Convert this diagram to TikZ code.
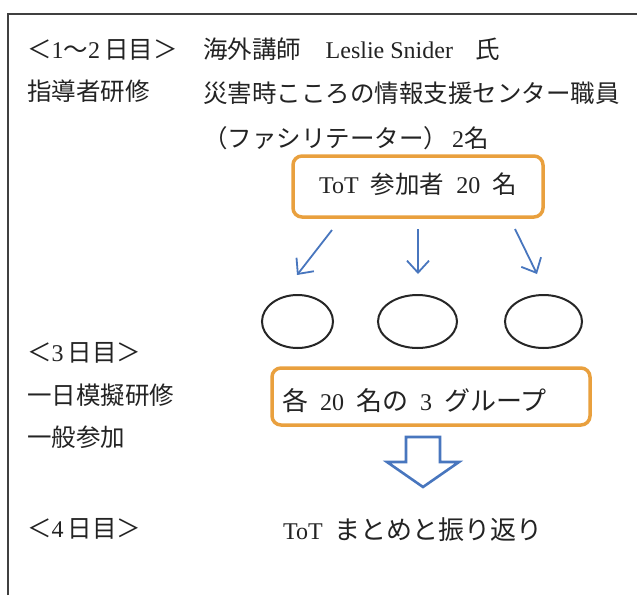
\documentclass[tikz,border=0pt]{standalone}
\usepackage{fontspec}
\setmainfont{Liberation Serif}
\newfontfamily\jp{Noto Sans CJK JP}
\usetikzlibrary{arrows.meta,shapes.geometric}
\definecolor{boxorange}{RGB}{233,160,62}
\definecolor{arrblue}{RGB}{72,118,190}
\definecolor{txt}{RGB}{35,35,35}
\newcommand\jtxt[1]{{\jp\fontsize{24.5}{28}\selectfont #1}}
\newcommand\jtxtb[1]{{\jp\fontsize{26}{28}\selectfont #1}}
\newcommand\jsp{\hspace{12pt}}
\tikzset{
  lbl/.style={anchor=base west, inner sep=0pt, text=txt, font=\fontsize{24}{28}\selectfont},
  obox/.style={draw=boxorange, line width=3.5pt, rounded corners=9pt, inner sep=0pt, text=txt, font=\fontsize{24}{28}\selectfont},
  grp/.style={draw=black!85, line width=2pt, ellipse, inner sep=0pt},
  thinarrow/.style={draw=arrblue, line width=1.8pt, -{Straight Barb[length=12pt,width=22pt]}},
  bigarrow/.style={draw=arrblue, line width=2.6pt, line join=miter},
  frame/.style={draw=black!75, line width=1.6pt}
}
\begin{document}
\begin{tikzpicture}[x=1pt,y=-1pt]
\useasboundingbox (0,0) rectangle (637,595);
\fill[white] (0,0) rectangle (637,595);
\draw[frame] (8,595) -- (8,14) -- (637,14);

% row 1-3
\node[lbl] (d12) at (27,58) {\jtxt{＜}1\jtxt{〜}2\,\jtxt{日目＞}};
\node[lbl] (lect) at (203,58) {\jtxt{海外講師　}Leslie Snider\hspace{22pt}\jtxt{氏}};
\node[lbl] (tot) at (27,100) {\jtxt{指導者研修}};
\node[lbl] (staff) at (203,102) {\jtxt{災害時こころの情報支援センター職員}};
\node[lbl] (fac) at (203,147) {\jtxt{（ファシリテーター）}\hspace{4pt}2\jtxt{名}};

% box 1
\node[obox, minimum width=250pt, minimum height=61pt, text height=20pt, text depth=6pt] (b1) at (418,186.5)
  {ToT\jsp\jtxt{参加者}\jsp 20\jsp\jtxt{名}};

% groups
\node[grp, minimum width=71pt, minimum height=53pt] (e1) at (297.5,321.5) {};
\node[grp, minimum width=79pt, minimum height=53pt] (e2) at (417.5,321.5) {};
\node[grp, minimum width=77pt, minimum height=53pt] (e3) at (543.5,321.5) {};

\coordinate (a1s) at (332,230); \coordinate (a1e) at (297,275);
\coordinate (a2s) at (418,229); \coordinate (a2e) at (418,274);
\coordinate (a3s) at (515,229); \coordinate (a3e) at (537,274);
\draw[thinarrow] (a1s) -- (a1e);
\draw[thinarrow] (a2s) -- (a2e);
\draw[thinarrow] (a3s) -- (a3e);

% day 3
\node[lbl] (d3) at (27,361) {\jtxt{＜}3\,\jtxt{日目＞}};
\node[lbl] (mock) at (27,404) {\jtxt{一日模擬研修}};
\node[lbl] (gen) at (27,446) {\jtxt{一般参加}};

\node[obox, minimum width=318pt, minimum height=57pt, text width=298pt, align=left, text height=30pt, text depth=2pt] (b2) at (431,396.5)
  {\jtxtb{各}\jsp 20\jsp\jtxtb{名の}\jsp 3\jsp\jtxtb{グループ}};

% big arrow
\draw[bigarrow] (406,437) -- (440,437) -- (440,462) -- (459,462) -- (423,487)
  -- (387,462) -- (406,462) -- cycle;

% day 4
\node[lbl] (d4) at (27,537) {\jtxt{＜}4\,\jtxt{日目＞}};
\node[lbl] (wrap) at (283,539) {ToT\hspace{12pt}\jtxtb{まとめと振り返り}};
\end{tikzpicture}
\end{document}
